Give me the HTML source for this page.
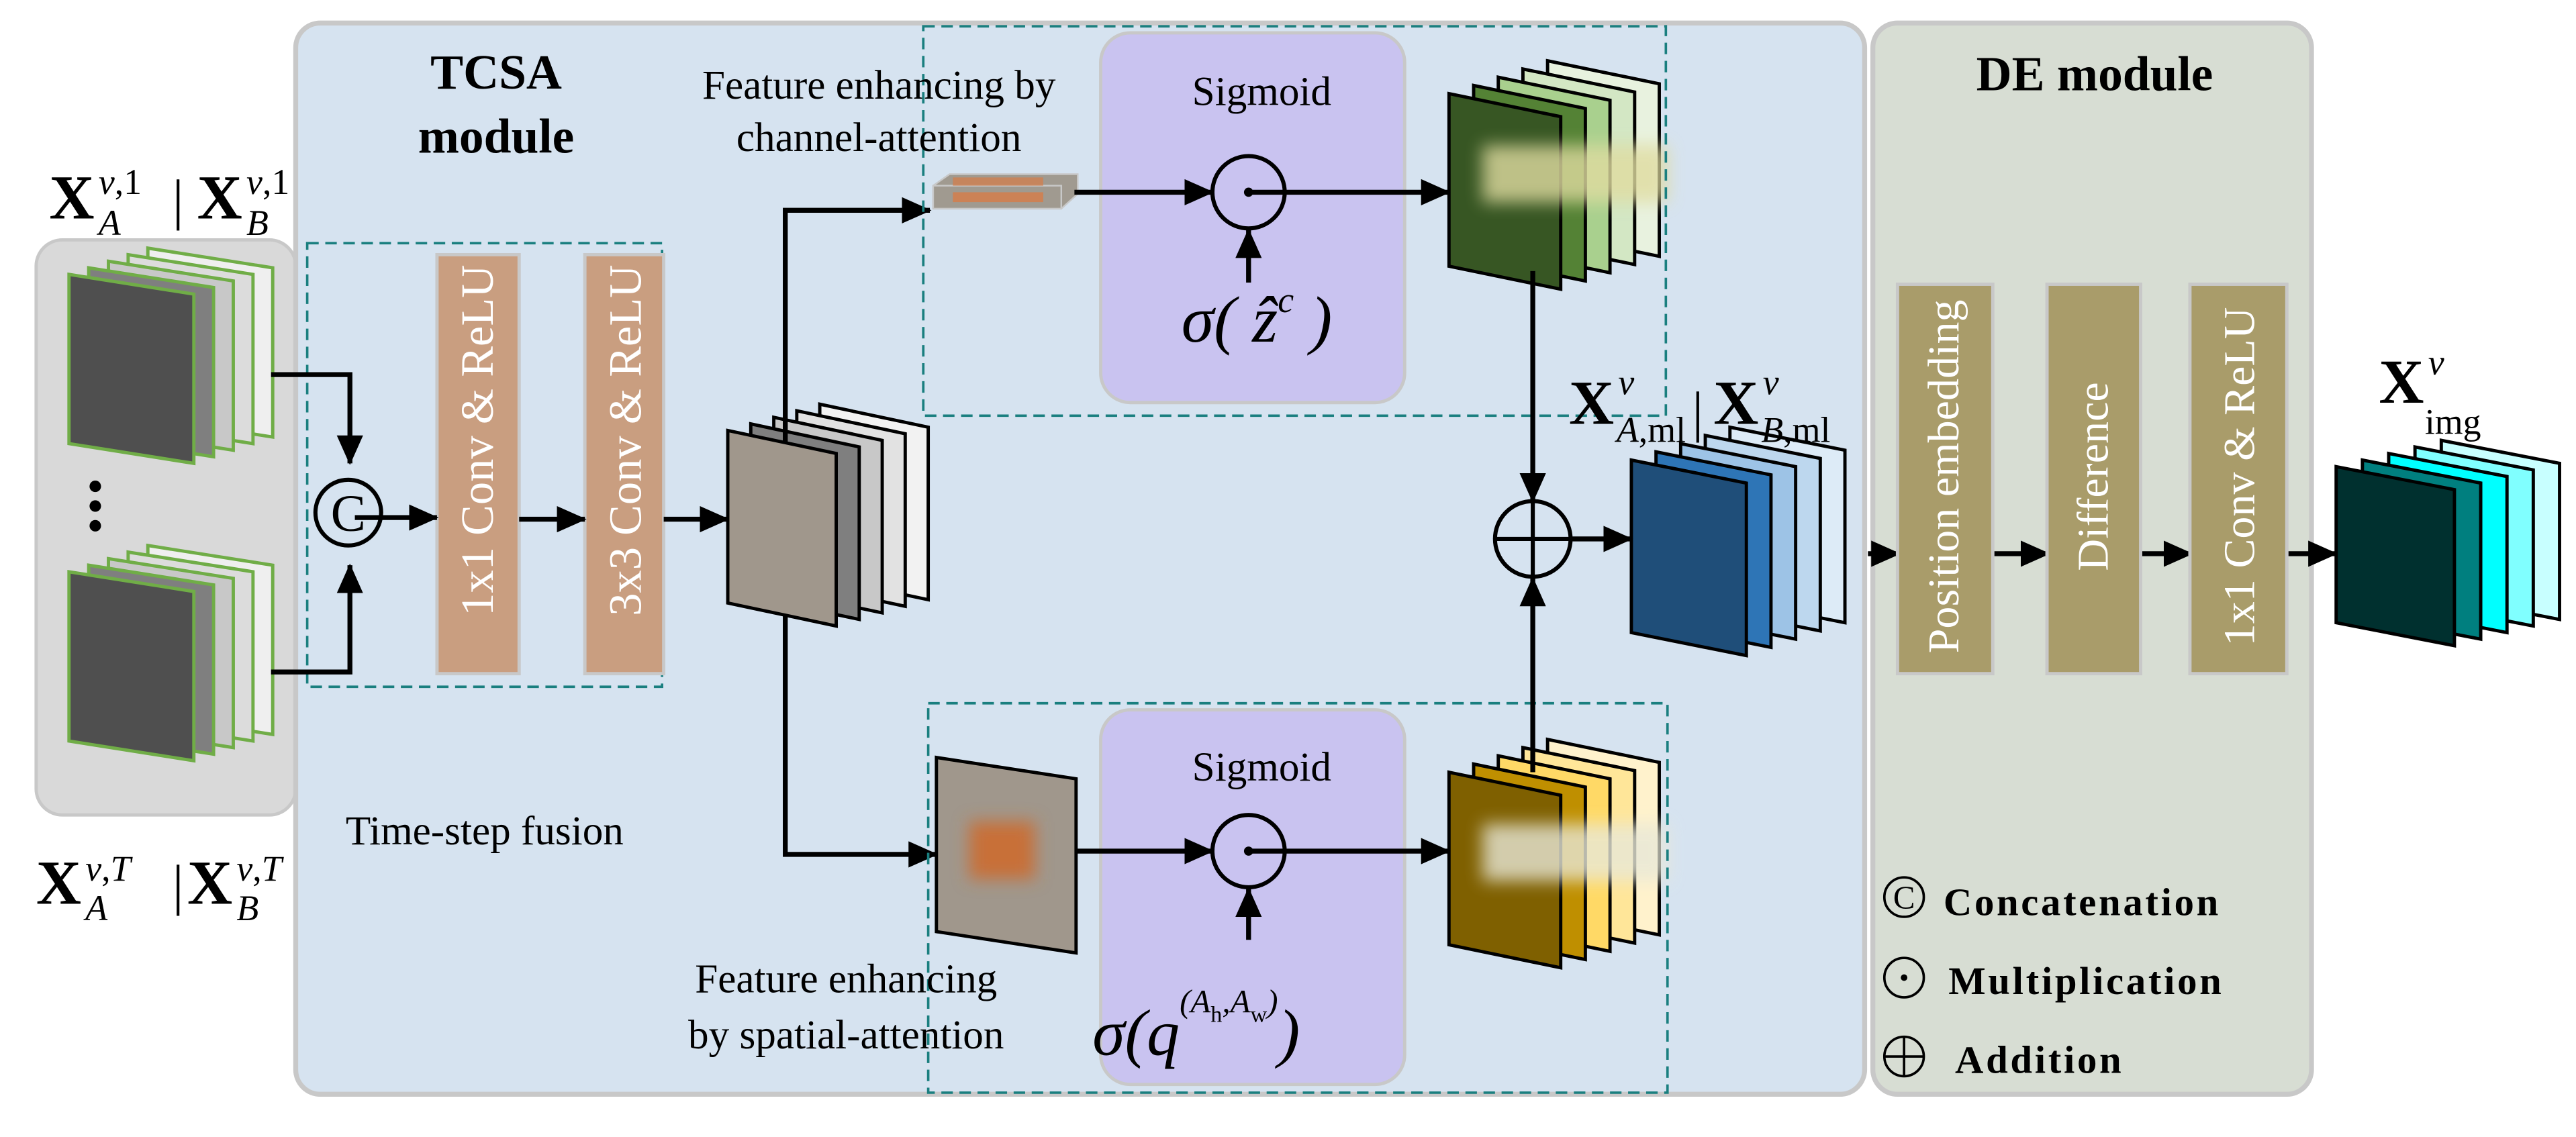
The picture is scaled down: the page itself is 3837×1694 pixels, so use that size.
<!DOCTYPE html>
<html><head><meta charset="utf-8"><style>
html,body{margin:0;padding:0;background:#fff}
svg{display:block}
svg text{font-family:"Liberation Serif","Times New Roman",Times,"DejaVu Serif",serif !important}
</style></head><body>
<svg id="s" width="3837" height="1694" viewBox="0 0 1568 692" preserveAspectRatio="none" xmlns="http://www.w3.org/2000/svg" font-family="'Liberation Serif', 'Times New Roman', serif">
<defs>
<marker id="b" markerWidth="18" markerHeight="16" refX="17" refY="8" orient="auto" markerUnits="userSpaceOnUse"><path d="M0,0 L18,8 L0,16 Z" fill="#000"/></marker>
<filter id="bl" x="-50%" y="-50%" width="200%" height="200%"><feGaussianBlur stdDeviation="5"/></filter>
</defs>
<rect x="22" y="146" width="158" height="350" rx="16" fill="#d9d9d9" stroke="#c8c8c8" stroke-width="2"/>
<rect x="180" y="14" width="955" height="652" rx="15" fill="#d6e3f0" stroke="#c8c8c8" stroke-width="3"/>
<rect x="1140" y="14" width="267" height="652" rx="15" fill="#d7ddd3" stroke="#c8c8c8" stroke-width="3"/>
<g id="stacks"></g>
<text x="302" y="54" font-size="30" font-weight="bold" text-anchor="middle">TCSA</text>
<text x="302" y="93" font-size="30" font-weight="bold" text-anchor="middle">module</text>
<text x="1275" y="55" font-size="30" font-weight="bold" text-anchor="middle">DE module</text>
<rect x="187" y="148" width="216" height="270" fill="none" stroke="#1a7f7f" stroke-width="1.5" stroke-dasharray="7,4"/>
<rect x="266" y="155" width="50" height="255" fill="#c99e80" stroke="#c8c8c8" stroke-width="2"/>
<rect x="356" y="155" width="48" height="255" fill="#c99e80" stroke="#c8c8c8" stroke-width="2"/>
<text transform="translate(300,268) rotate(-90)" font-size="28" fill="#fff" text-anchor="middle">1x1 Conv &amp; ReLU</text>
<text transform="translate(390,268) rotate(-90)" font-size="28" fill="#fff" text-anchor="middle">3x3 Conv &amp; ReLU</text>
<text x="295" y="514" font-size="25" text-anchor="middle">Time-step fusion</text>
<circle cx="212" cy="312" r="20" fill="none" stroke="#000" stroke-width="2.5"/>
<text x="212" y="323" font-size="32" text-anchor="middle">C</text>
<g stroke="#000" stroke-width="3" fill="none">
<path d="M165,228 H213 V282" marker-end="url(#b)"/>
<path d="M165,409 H213 V344" marker-end="url(#b)"/>
<path d="M216,315 H266" marker-end="url(#b)"/>
<path d="M316,316 H356" marker-end="url(#b)"/>
<path d="M404,316 H443" marker-end="url(#b)"/>
<path d="M478,270 V128 H566" marker-end="url(#b)"/>
<path d="M478,375 V520 H570" marker-end="url(#b)"/>
</g>
<rect x="562" y="16" width="452" height="237" fill="none" stroke="#1a7f7f" stroke-width="1.5" stroke-dasharray="7,4"/>
<rect x="670" y="20" width="185" height="225" rx="18" fill="#c9c3f0" stroke="#c8c8c8" stroke-width="2"/>
<text x="768" y="64" font-size="25" text-anchor="middle">Sigmoid</text>
<text x="535" y="60" font-size="25" text-anchor="middle">Feature enhancing by</text>
<text x="535" y="92" font-size="25" text-anchor="middle">channel-attention</text>
<polygon points="568,113 578,106 656,106 656,118 646,127 568,127" fill="#a09a90" stroke="#c8c8c8"/>
<rect x="568" y="113" width="78" height="14" fill="#a09a90" stroke="#c8c8c8"/>
<rect x="580" y="108" width="55" height="5" fill="#d08050" opacity=".8"/>
<rect x="580" y="117" width="55" height="6" fill="#d08050" opacity=".9"/>
<circle cx="760" cy="117" r="22" fill="none" stroke="#000" stroke-width="2.5"/>
<circle cx="760" cy="117" r="2.8" fill="#000"/>
<text x="765" y="208" font-size="40" font-style="italic" text-anchor="middle">σ( ẑ<tspan font-size="22" dy="-18">c</tspan><tspan dy="18"> )</tspan></text>
<rect x="565" y="428" width="450" height="237" fill="none" stroke="#1a7f7f" stroke-width="1.5" stroke-dasharray="7,4"/>
<rect x="670" y="432" width="185" height="228" rx="18" fill="#c9c3f0" stroke="#c8c8c8" stroke-width="2"/>
<text x="768" y="475" font-size="25" text-anchor="middle">Sigmoid</text>
<text x="515" y="604" font-size="25" text-anchor="middle">Feature enhancing</text>
<text x="515" y="638" font-size="25" text-anchor="middle">by spatial-attention</text>
<polygon points="570,461 655,474 655,580 570,567" fill="#a0978c" stroke="#000" stroke-width="2"/>
<rect x="590" y="500" width="40" height="35" fill="#c87038" filter="url(#bl)"/>
<circle cx="760" cy="518" r="22" fill="none" stroke="#000" stroke-width="2.5"/>
<circle cx="760" cy="518" r="2.8" fill="#000"/>
<text x="665" y="642" font-size="40" font-style="italic">σ(q<tspan font-size="20" dy="-26">(A</tspan><tspan font-size="14" font-style="normal" dy="6">h</tspan><tspan font-size="20" dy="-6">,A</tspan><tspan font-size="14" font-style="normal" dy="6">w</tspan><tspan font-size="20" dy="-6">)</tspan><tspan font-size="40" dy="26">)</tspan></text>
<g stroke="#000" stroke-width="3" fill="none">
<path d="M654,117 H738" marker-end="url(#b)"/>
<path d="M760,117 H882" marker-end="url(#b)"/>
<path d="M760,172 V140" marker-end="url(#b)"/>
<path d="M655,518 H738" marker-end="url(#b)"/>
<path d="M760,518 H882" marker-end="url(#b)"/>
<path d="M760,572 V541" marker-end="url(#b)"/>
<path d="M933,165 V305" marker-end="url(#b)"/>
<path d="M933,470 V352" marker-end="url(#b)"/>
<path d="M955,328 H993" marker-end="url(#b)"/>
<path d="M1137,337 H1156" marker-end="url(#b)"/>
<path d="M1213,337 H1247" marker-end="url(#b)"/>
<path d="M1302,337 H1334" marker-end="url(#b)"/>
<path d="M1392,337 H1422" marker-end="url(#b)"/>
</g>
<circle cx="933" cy="328" r="23" fill="none" stroke="#000" stroke-width="2.5"/>
<path d="M910,328 H956 M933,305 V351" stroke="#000" stroke-width="2.5"/>
<rect x="1155" y="173" width="58" height="237" fill="#a99c6a" stroke="#c8c8c8" stroke-width="2"/>
<rect x="1246" y="173" width="57" height="237" fill="#a99c6a" stroke="#c8c8c8" stroke-width="2"/>
<rect x="1333" y="173" width="59" height="237" fill="#a99c6a" stroke="#c8c8c8" stroke-width="2"/>
<text transform="translate(1192,290) rotate(-90)" font-size="27" fill="#fff" text-anchor="middle">Position embedding</text>
<text transform="translate(1283,290) rotate(-90)" font-size="27" fill="#fff" text-anchor="middle">Difference</text>
<text transform="translate(1372,290) rotate(-90)" font-size="27" fill="#fff" text-anchor="middle">1x1 Conv &amp; ReLU</text>
<circle cx="1159" cy="546" r="12" fill="none" stroke="#000" stroke-width="1.5"/>
<text x="1159" y="553" font-size="20" text-anchor="middle">C</text>
<text x="1183" y="557" font-size="24" font-weight="bold" letter-spacing="1.5">Concatenation</text>
<circle cx="1159" cy="595" r="12" fill="none" stroke="#000" stroke-width="1.5"/>
<circle cx="1159" cy="595" r="2" fill="#000"/>
<text x="1186" y="605" font-size="24" font-weight="bold" letter-spacing="1.5">Multiplication</text>
<circle cx="1159" cy="643" r="12" fill="none" stroke="#000" stroke-width="1.5"/>
<path d="M1147,643 H1171 M1159,631 V655" stroke="#000" stroke-width="1.5"/>
<text x="1190" y="653" font-size="24" font-weight="bold" letter-spacing="1.5">Addition</text>
<g font-size="38">
<text x="30" y="133" font-weight="bold">X</text>
<text x="60" y="118" font-size="22"><tspan font-style="italic">v</tspan>,1</text>
<text x="60" y="143" font-size="22" font-style="italic">A</text>
<text x="105" y="133" font-size="34">|</text>
<text x="120" y="133" font-weight="bold">X</text>
<text x="150" y="118" font-size="22"><tspan font-style="italic">v</tspan>,1</text>
<text x="150" y="143" font-size="22" font-style="italic">B</text>
<text x="22" y="550" font-weight="bold">X</text>
<text x="52" y="536" font-size="22"><tspan font-style="italic">v</tspan>,<tspan font-style="italic">T</tspan></text>
<text x="52" y="560" font-size="22" font-style="italic">A</text>
<text x="105" y="550" font-size="34">|</text>
<text x="114" y="550" font-weight="bold">X</text>
<text x="144" y="536" font-size="22"><tspan font-style="italic">v</tspan>,<tspan font-style="italic">T</tspan></text>
<text x="144" y="560" font-size="22" font-style="italic">B</text>
<text x="955" y="258" font-weight="bold">X</text>
<text x="985" y="240" font-size="22" font-style="italic">v</text>
<text x="984" y="269" font-size="22"><tspan font-style="italic">A</tspan>,ml</text>
<text x="1030" y="262" font-size="34">|</text>
<text x="1043" y="258" font-weight="bold">X</text>
<text x="1073" y="240" font-size="22" font-style="italic">v</text>
<text x="1072" y="269" font-size="22"><tspan font-style="italic">B</tspan>,ml</text>
<text x="1448" y="245" font-weight="bold">X</text>
<text x="1478" y="228" font-size="22" font-style="italic">v</text>
<text x="1476" y="264" font-size="22">img</text>
</g>
</svg>
<script>
var NS="http://www.w3.org/2000/svg",g=document.getElementById("stacks");
function poly(x,y,w,h,s,f,st,sw){var p=document.createElementNS(NS,"polygon");
p.setAttribute("points",x+","+y+" "+(x+w)+","+(y+s)+" "+(x+w)+","+(y+h+s)+" "+x+","+(y+h));
p.setAttribute("fill",f);p.setAttribute("stroke",st);p.setAttribute("stroke-width",sw);g.appendChild(p);}
function stack(x,y,w,h,s,cols,dx,dy,st,sw,glow){
 for(var i=cols.length-1;i>=0;i--){poly(x+i*dx,y-i*dy,w,h,s,cols[i],st,sw);}
 if(glow){var r=document.createElementNS(NS,"rect");r.setAttribute("x",x+w*0.3);r.setAttribute("y",y+h*0.3);
 r.setAttribute("width",w+dx*3);r.setAttribute("height",h*0.33);r.setAttribute("fill",glow);r.setAttribute("filter","url(#bl)");r.setAttribute("opacity","0.8");g.appendChild(r);}
}
var gr=["#4f4f4f","#7f7f7f","#c8c8c8","#dcdcdc","#efefef"];
stack(42,167,76,103,12,gr,12,4,"#70ad47",2);
stack(42,348,76,103,12,gr,12,4,"#70ad47",2);
stack(443,262,66,105,14,["#a0978c","#7f7f7f","#c8c8c8","#e2e2e2","#f2f2f2"],14,4,"#000",2);
stack(882,57,68,105,14,["#375623","#548235","#a9d08e","#d3e7c4","#e8f2df"],15,5,"#000",2,"#e0dca0");
stack(882,470,68,105,14,["#7f6000","#bf8f00","#ffd966","#ffe699","#fff2cc"],15,5,"#000",2,"#e8e8d8");
stack(993,280,70,105,14,["#1f4e79","#2e75b6","#9dc3e6","#bdd7ee","#ddebf7"],15,5,"#000",2);
stack(1422,284,72,95,14,["#00302f","#007f7f","#00ffff","#80ffff","#c8ffff"],16,4,"#000",2);
[296,308,320].forEach(function(cy){var c=document.createElementNS(NS,"circle");c.setAttribute("cx",58);c.setAttribute("cy",cy);c.setAttribute("r",3.5);g.appendChild(c);});
</script>
</body></html>
